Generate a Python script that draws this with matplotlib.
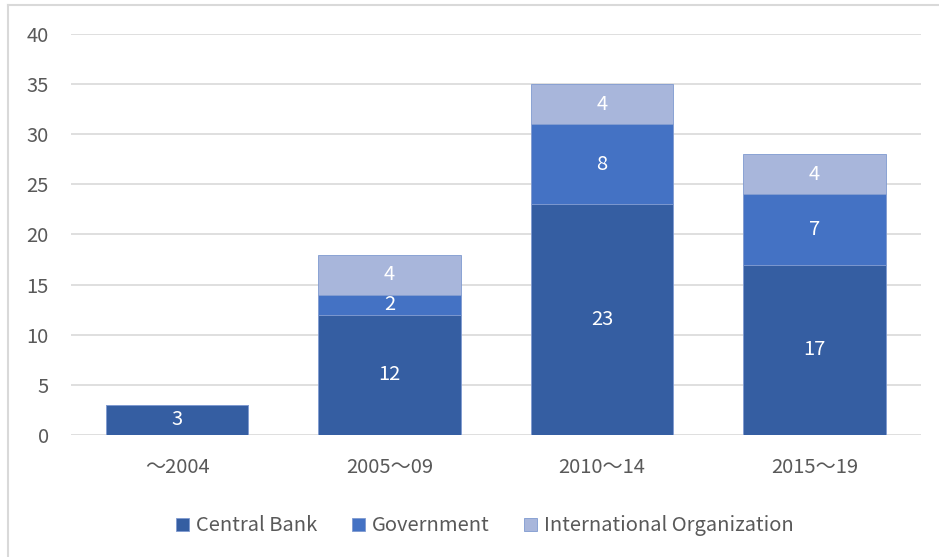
import matplotlib.pyplot as plt
from matplotlib.lines import Line2D

# chart data
periods = ["～2004", "2005～09", "2010～14", "2015～19"]
central_bank = [3, 12, 23, 17]
government = [0, 2, 8, 7]
intl_org = [0, 4, 4, 4]

series = [
    ("Central Bank", central_bank, "#355EA2"),
    ("Government", government, "#4472C4"),
    ("International Organization", intl_org, "#A8B6DB"),
]

plt.rcParams['font.family'] = ['Noto Sans CJK JP', 'DejaVu Sans']

fig = plt.figure(figsize=(9.39, 5.57), dpi=100)
ax = fig.add_axes([0.0756, 0.219, 0.905, 0.72])

x = range(len(periods))
bottom = [0] * len(periods)
for name, vals, color in series:
    bars = ax.bar(x, vals, width=0.67, bottom=bottom, color=color,
                  edgecolor="#7F9AD0", linewidth=0.6, label=name, zorder=3)
    for b, v, base in zip(bars, vals, bottom):
        if v > 0:
            ax.text(b.get_x() + b.get_width() / 2, base + v / 2, str(v),
                    ha="center", va="center", color="white", fontsize=14.5)
    bottom = [a + b for a, b in zip(bottom, vals)]

ax.set_xlim(-0.5, 3.5)
ax.set_ylim(0, 40)
ax.set_yticks(range(0, 41, 5))
ax.set_xticks(list(x))
ax.set_xticklabels(periods)
ax.grid(axis="y", color="#D9D9D9", linewidth=1.2, zorder=0)
for s in ax.spines.values():
    s.set_visible(False)
ax.tick_params(length=0, labelsize=14.5, labelcolor="#595959")
ax.tick_params(axis="y", pad=16)
ax.tick_params(axis="x", pad=16)

ax.legend(loc="upper center", bbox_to_anchor=(0.487, -0.155), ncol=3,
          frameon=False, fontsize=14.5, labelcolor="#595959",
          handlelength=0.65, handleheight=0.65, handletextpad=0.35,
          columnspacing=1.7)

# outer chart border (left and top edges visible)
fig.add_artist(Line2D([0.009, 0.009], [0, 0.991], color="#D9D9D9", linewidth=1.5))
fig.add_artist(Line2D([0.009, 1.0], [0.991, 0.991], color="#D9D9D9", linewidth=1.5))

fig.savefig("out.png", dpi=100)
